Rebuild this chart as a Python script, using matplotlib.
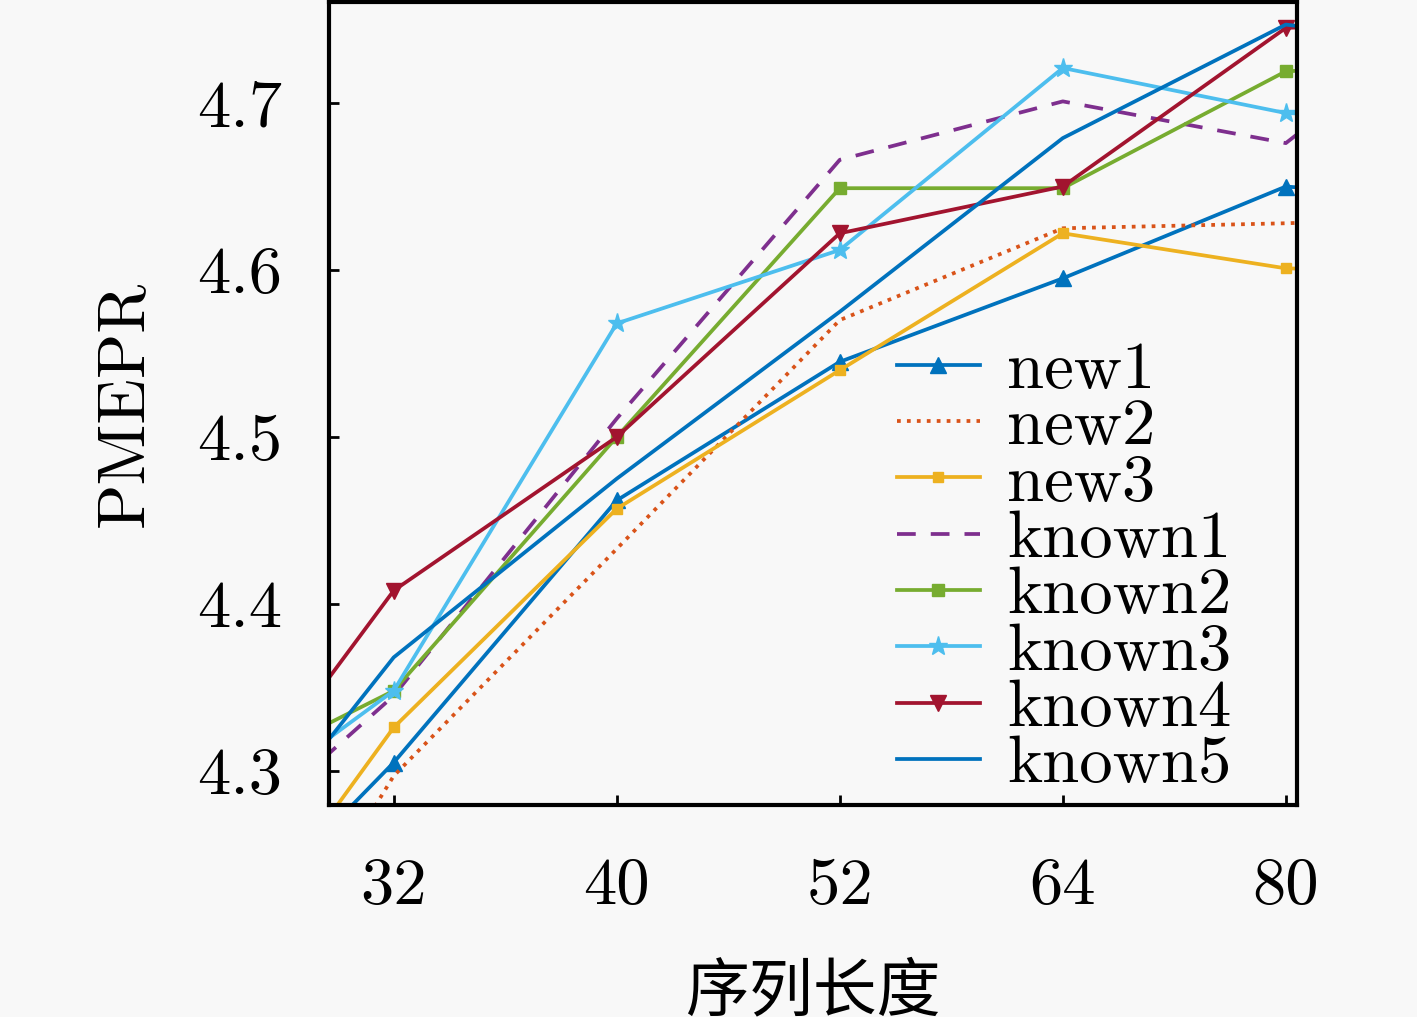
import numpy as np
import matplotlib
matplotlib.use('Agg')
import matplotlib.pyplot as plt

plt.rcParams['font.family'] = ['cmr10', 'Noto Sans CJK SC']
plt.rcParams['axes.formatter.use_mathtext'] = True

# sequence lengths; first and last points sit just outside the visible window
seq_len = [24, 32, 40, 52, 64, 80, 96]
tick_lengths = ['32', '40', '52', '64', '80']

new1 = [4.168, 4.305, 4.462, 4.545, 4.595, 4.650, 4.640]
new2 = [4.080, 4.297, 4.433, 4.570, 4.625, 4.628, 4.632]
new3 = [4.142, 4.326, 4.457, 4.540, 4.622, 4.601, 4.598]
known1 = [4.226, 4.345, 4.511, 4.666, 4.701, 4.676, 4.780]
known2 = [4.281, 4.348, 4.500, 4.649, 4.649, 4.719, 4.725]
known3 = [4.250, 4.348, 4.568, 4.612, 4.721, 4.694, 4.690]
known4 = [4.228, 4.408, 4.500, 4.622, 4.650, 4.745, 4.750]
known5 = [4.199, 4.368, 4.475, 4.575, 4.679, 4.747, 4.730]

y_ticks = [4.3, 4.4, 4.5, 4.6, 4.7]

bg = '#f8f8f8'
fig = plt.figure(figsize=(14.17, 10.17), dpi=100, facecolor=bg)
ax = fig.add_axes([0.2322, 0.2085, 0.6831, 0.7895], facecolor=bg)

x = np.arange(len(seq_len))
lw = 2.7
ax.plot(x, new1, color='#0072BD', lw=lw, marker='^', ms=11, label='new1')
ax.plot(x, new2, color='#D95319', lw=lw, ls=':', label='new2')
ax.plot(x, new3, color='#EDB120', lw=lw, marker='s', ms=7, label='new3')
ax.plot(x, known1, color='#7E2F8E', lw=lw, ls=(0, (5, 4)), label='known1')
ax.plot(x, known2, color='#77AC30', lw=lw, marker='s', ms=8, label='known2')
ax.plot(x, known3, color='#4DBEEE', lw=lw, marker='*', ms=14, label='known3')
ax.plot(x, known4, color='#A2142F', lw=lw, marker='v', ms=11, label='known4')
ax.plot(x, known5, color='#0072BD', lw=lw, label='known5')

ax.set_xlim(1 - 0.29, 5 + 0.05)
ax.set_ylim(4.2796, 4.7605)
ax.set_xticks(x[1:6])
ax.set_xticklabels(tick_lengths)
ax.set_yticks(y_ticks)
ax.set_yticklabels([f'{v:.1f}' for v in y_ticks])

for s in ax.spines.values():
    s.set_linewidth(3)
ax.tick_params(direction='in', length=7, width=2, labelsize=48)
ax.tick_params(axis='x', pad=38)
ax.tick_params(axis='y', pad=34)

ax.set_xlabel('序列长度', fontsize=46, family='Noto Sans CJK SC', labelpad=30)
ax.set_ylabel('PMEPR', fontsize=48, labelpad=30)

ax.legend(loc='lower right', bbox_to_anchor=(0.932, 0.012), frameon=False,
          fontsize=48, handlelength=1.25, handletextpad=0.4,
          labelspacing=-0.05, borderpad=0, borderaxespad=0)

fig.savefig('out.png', dpi=100, facecolor=bg)
